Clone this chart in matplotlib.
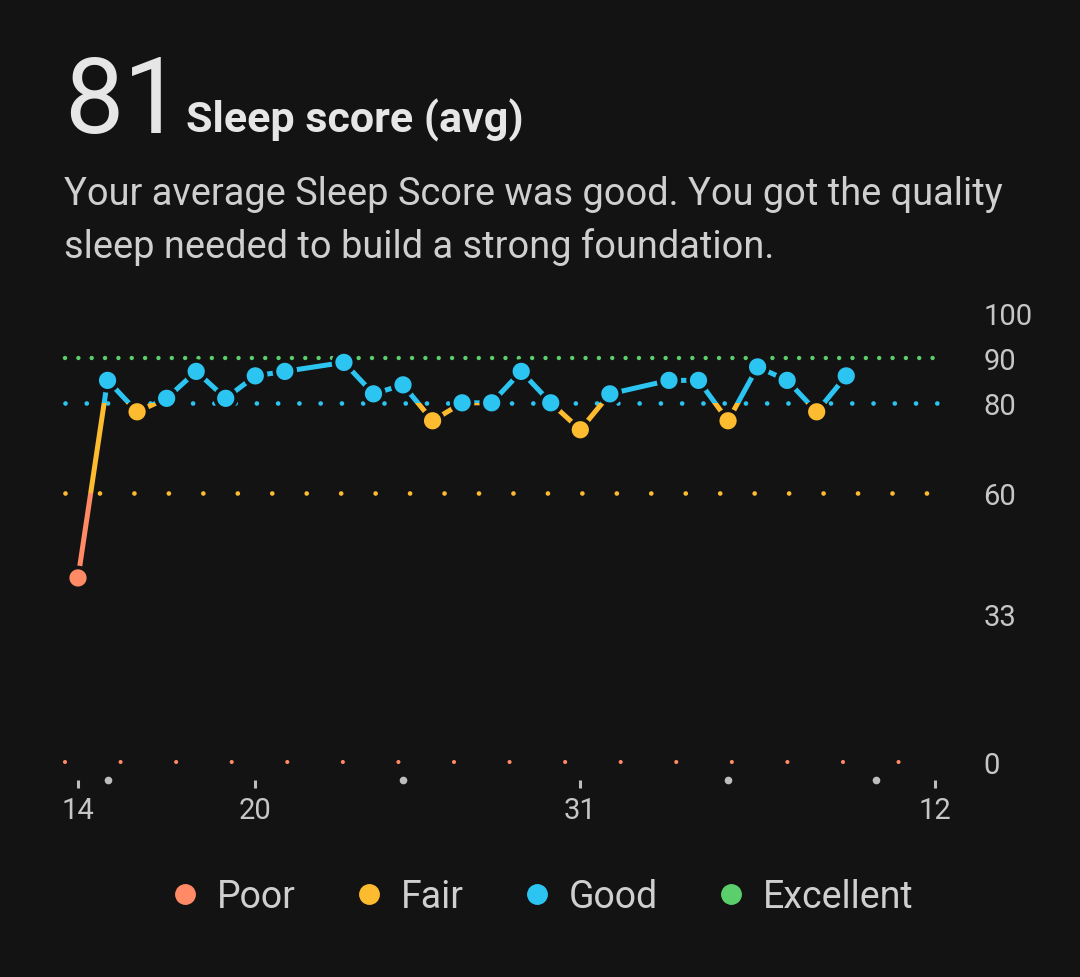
import matplotlib
matplotlib.use("Agg")
import matplotlib.pyplot as plt
from matplotlib.patches import Rectangle
from matplotlib.lines import Line2D
import matplotlib.transforms as mtransforms

plt.rcParams['font.family'] = ['Roboto', 'DejaVu Sans']
plt.rcParams['lines.scale_dashes'] = False

# data: day index (0 = the 14th), sleep score
days = [0, 1, 2, 3, 4, 5, 6, 7, 9, 10, 11, 12, 13, 14, 15, 16, 17, 18,
        20, 21, 22, 23, 24, 25, 26]
scores = [41, 85, 78, 81, 87, 81, 86, 87, 89, 82, 84, 76, 80, 80, 87, 80, 74, 82,
          85, 85, 76, 88, 85, 78, 86]

tick_days = [0, 6, 17, 29]
tick_labels = ["14", "20", "31", "12"]
minor_days = [1, 11, 22, 27]

y_ticks = [0, 33, 60, 80, 90, 100]

band_names = ["Poor", "Fair", "Good", "Excellent"]
band_colors = ["#FF8A65", "#FDBB30", "#2CC5F2", "#5ACF6C"]
band_limits = [(-20, 60), (60, 80), (80, 90), (90, 120)]
thresholds = [0, 60, 80, 90]
# dot spacing (pt) and dot size (pt) for each threshold line
dot_gap = [40.0, 24.8, 15.3, 9.6]
dot_width = [3.0, 3.4, 3.4, 3.2]

bg = "#131313"
text_col = "#E6E6E6"
sub_col = "#CFCFCF"
tick_col = "#C6C6C6"

fig = plt.figure(figsize=(10.8, 9.78), dpi=100)
fig.patch.set_facecolor(bg)
ax = fig.add_axes([40 / 1080, 1 - 789 / 978, 920 / 1080, 488 / 978])
ax.set_facecolor(bg)
ax.set_xlim(-1.286, 29.85)
ax.set_ylim(-5.79, 102.9)
for s in ax.spines.values():
    s.set_visible(False)

# dotted threshold lines
for t, c, g, w in zip(thresholds, band_colors, dot_gap, dot_width):
    ax.plot([-0.44, 29.1], [t, t], color=c, lw=w, linestyle=(0, (0.01, g)),
            dash_capstyle='round', zorder=1)

# line coloured by score band
for (lo, hi), c in zip(band_limits, band_colors):
    ln, = ax.plot(days, scores, color=c, lw=3.6, zorder=2, solid_capstyle='butt')
    rect = Rectangle((-5, lo), 40, hi - lo, transform=ax.transData)
    ln.set_clip_path(rect)

def band_color(v):
    if v < 60:
        return band_colors[0]
    if v < 80:
        return band_colors[1]
    if v < 90:
        return band_colors[2]
    return band_colors[3]

pt_colors = [band_color(v) for v in scores]
ax.scatter(days, scores, s=15 ** 2, c=pt_colors, edgecolors=bg, linewidths=2.6, zorder=3)

# x ticks
ax.set_xticks(tick_days)
ax.set_xticklabels(tick_labels)
ax.tick_params(axis='x', direction='in', length=6, width=2.2, color="#BDBDBD",
               labelsize=21, labelcolor=tick_col, pad=6)
trans = mtransforms.blended_transform_factory(ax.transData, ax.transAxes)
ax.plot(minor_days, [0.0164] * len(minor_days), 'o', ms=4.5, color="#BDBDBD",
        transform=trans, clip_on=False)

# y ticks on right
ax.yaxis.tick_right()
ax.set_yticks(y_ticks)
ax.set_yticklabels([str(v) for v in y_ticks])
ax.tick_params(axis='y', length=0, labelsize=21, labelcolor=tick_col, pad=17)

# header
fig.text(64 / 1080, 1 - 133 / 978, "81", fontsize=76, color=text_col, va='baseline')
fig.text(186 / 1080, 1 - 133 / 978, "Sleep score (avg)", fontsize=31, color=text_col,
         fontweight='bold', va='baseline')
fig.text(64 / 1080, 1 - 205 / 978, "Your average Sleep Score was good. You got the quality",
         fontsize=27.4, color=sub_col, va='baseline')
fig.text(64 / 1080, 1 - 258 / 978, "sleep needed to build a strong foundation.",
         fontsize=27.4, color=sub_col, va='baseline')

# legend
handles = [Line2D([], [], marker='o', ls='none', ms=14, color=c) for c in band_colors]
leg = fig.legend(handles, band_names, loc='center', bbox_to_anchor=(540 / 1080, 1 - 898 / 978),
                 ncol=4, frameon=False, fontsize=27, labelcolor=sub_col,
                 handletextpad=0.35, columnspacing=1.45, handlelength=1.0)

fig.savefig("out.png", dpi=100, facecolor=bg)
